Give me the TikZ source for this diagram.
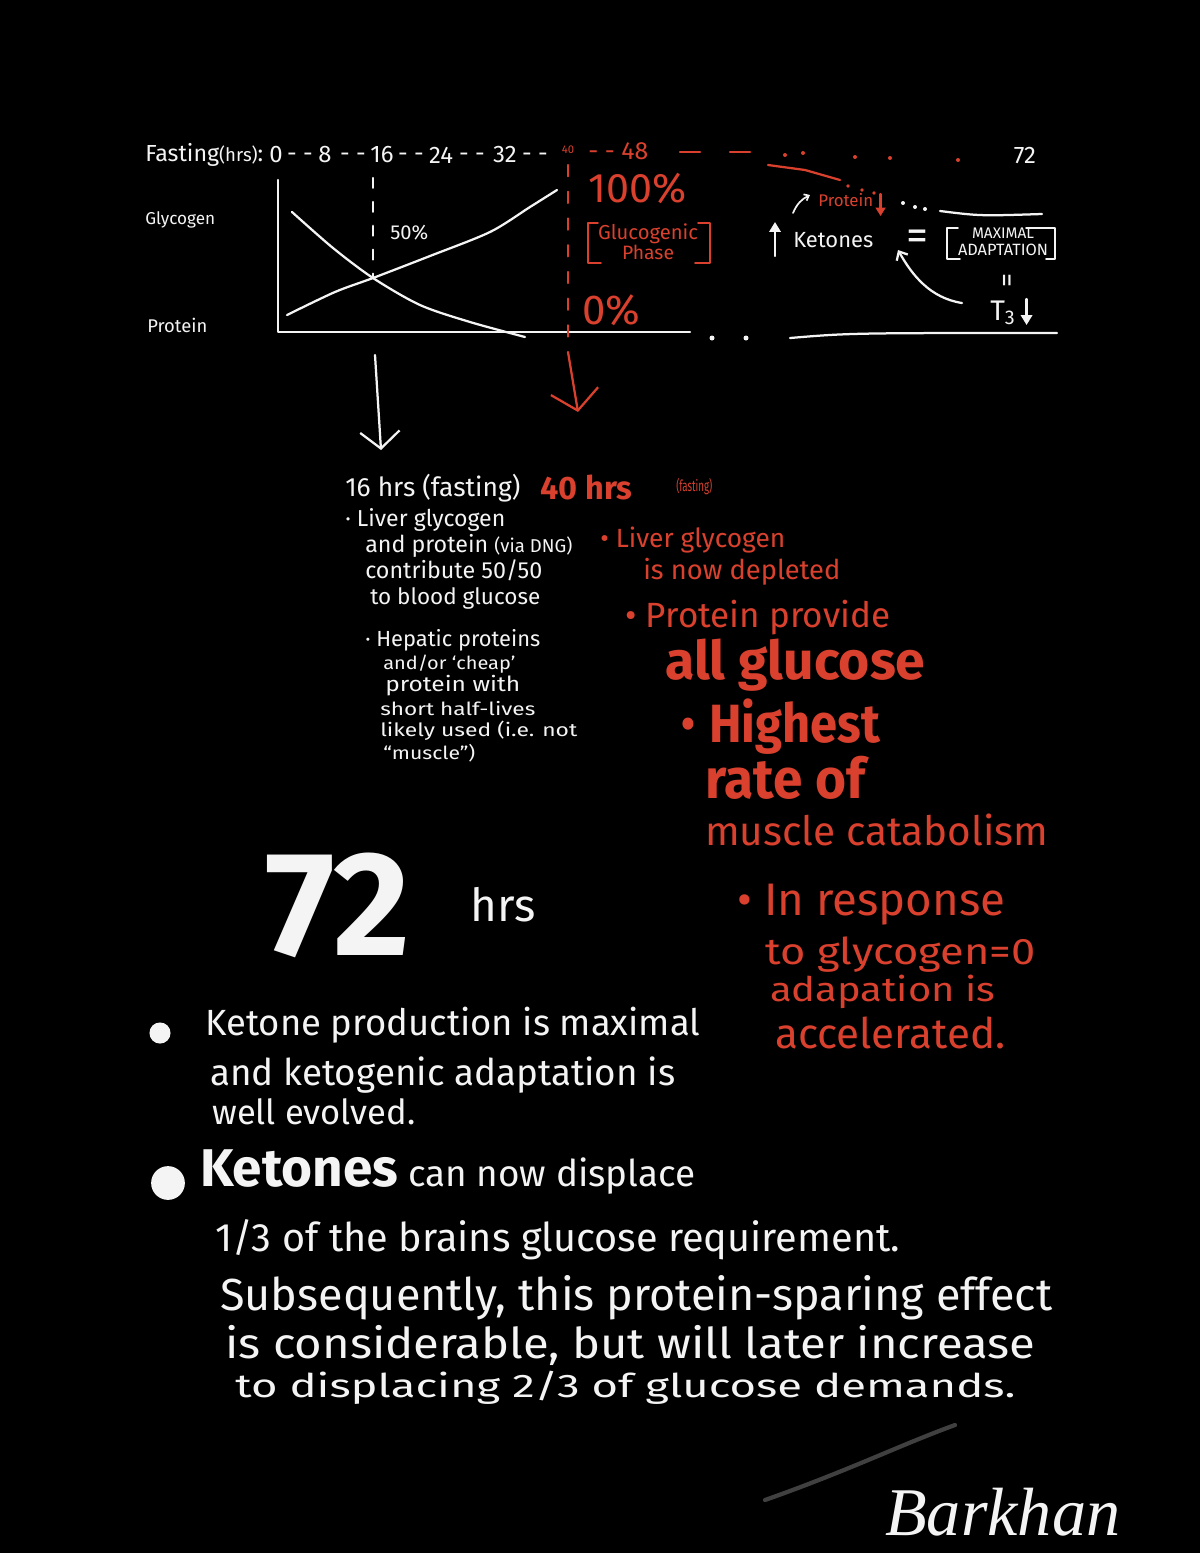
\documentclass[tikz,border=0pt]{standalone}
\usepackage{fontspec}
\setmainfont{Fira Sans}
\newfontfamily\sigfont{Liberation Serif}
\usepackage{graphicx}
\usepackage{xcolor}
\definecolor{colRed}{HTML}{D9412E}
\definecolor{colChalk}{HTML}{F4F4F4}
\usetikzlibrary{arrows.meta, positioning, calc}
\newlength\pxu \setlength\pxu{0.025cm}
\newcommand{\hw}[2]{\resizebox{#1\pxu}{!}{#2}}
\newcommand{\hws}[3]{\scalebox{1}[#2]{\resizebox{#1\pxu}{!}{#3}}}

\begin{document}
\begin{tikzpicture}[x=0.025cm, y=-0.025cm,
    hand/.style={text=colChalk, inner sep=0pt, anchor=west},
    redhand/.style={hand, text=colRed},
    chalk/.style={draw=colChalk, line width=1.6pt, line cap=round, line join=round},
    redchalk/.style={chalk, draw=colRed},
    tick/.style={text=colChalk, inner sep=0pt, font=\fontsize{17}{17}\selectfont}]
        % Board
        \fill[black] (0,0) rectangle (1200,1553);
        \useasboundingbox (0,0) rectangle (1200,1553);
        % Time axis
        \node[hand] (fast) at (145,155) {\hw{118}{Fasting{\footnotesize(hrs)}:}};
        \foreach \h/\x in {0/276, 8/325, 16/382, 24/441, 32/505}
            \node[tick] (t\h) at (\x,155) {\h};
        \foreach \x in {300,353,411,472,535}
            \node[tick] (d\x) at (\x,157) {- -};
        \node[text=colRed, inner sep=0pt, font=\fontsize{8}{8}\selectfont] (t40) at (568,150) {40};
        \node[redhand] (t48) at (588,151) {\hw{60}{- - 48}};
        \foreach \x in {680,730}
            \draw[redchalk] (\x,152) -- ++(20,0);
        \foreach \x/\y in {785/155, 803/153, 855/157, 890/158, 958/160}
            \fill[colRed] (\x,\y) circle (2);
        \node[tick] (t72) at (1025,155) {72};
        % Chart
        \node[hand] (lgly) at (145,220) {\hw{70}{Glycogen}};
        \node[hand] (lpro) at (147,325) {\hw{60}{Protein}};
        \coordinate (o) at (278,332);
        \draw[chalk] (278,180) -- (o) -- (690,332);
        \draw[chalk] plot[smooth] coordinates {(292,212) (333,248) (373,278) (420,305) (470,322) (525,337)};
        \draw[chalk] plot[smooth] coordinates {(287,315) (335,292) (373,278) (430,256) (490,232) (530,207) (557,190)};
        \draw[chalk, dash pattern=on 7pt off 10pt] (373,178) -- (373,278);
        \node[hand] (half) at (390,233) {\hw{38}{50\%}};
        % 40 hrs marker
        \draw[redchalk, dash pattern=on 8pt off 11pt] (568,165) -- (568,352);
        \node[redhand] (p100) at (588,188) {\hw{98}{100\%}};
        \node[text=colRed, align=center, inner sep=1pt] (gp) at (648,242) {\hw{100}{Glucogenic}\\\hw{52}{Phase}};
        \draw[redchalk, line width=1.3pt] (598,223) -- (588,223) -- (588,263) -- (601,263);
        \draw[redchalk, line width=1.3pt] (698,223) -- (710,223) -- (710,263) -- (695,263);
        \node[redhand] (p0) at (582,310) {\hw{58}{0\%}};
        \draw[redchalk] (768,165) -- (805,170) -- (840,180);
        % Ketones / adaptation
        \node[hand] (ket) at (793,240) {\hw{80}{Ketones}};
        \draw[chalk, -{Triangle[length=7pt,width=8pt]}] ($(ket.west)+(-18,16)$) -- ($(ket.west)+(-18,-18)$);
        \node[redhand] (prot) at (818,200) {\hw{55}{Protein}};
        \draw[chalk, line width=1.2pt, -{Straight Barb[length=3pt,width=5pt]}] ($(prot.west)+(-25,13)$) to[bend left=20] ($(prot.west)+(-8,-5)$);
        \draw[redchalk, -{Triangle[length=6pt,width=7pt]}] ($(prot.east)+(7,-6)$) -- ($(prot.east)+(7,16)$);
        \foreach \x/\y in {848/186, 862/190, 874/193}
            \fill[colRed] (\x,\y) circle (1.8);
        \foreach \x/\y in {903/203, 915/207, 925/209}
            \fill[colChalk] (\x,\y) circle (2);
        \draw[chalk] (940,211) .. controls (980,216) .. (1042,214);
        \node[text=colChalk, inner sep=0pt] (eq) at (917,240) {\hw{22}{=}};
        \node[text=colChalk, align=center, inner sep=1pt] (ma) at (1003,242) {\hw{62}{MAXIMAL}\\\hw{90}{ADAPTATION}};
        \draw[chalk, line width=1.2pt] (958,228) -- (947,228) -- (947,259) -- (960,259);
        \draw[chalk, line width=1.2pt] (1026,228) -- (1055,228) -- (1055,259) -- (1046,259);
        \node[text=colChalk, inner sep=0pt, rotate=90] (eq2) at (1010,280) {\hw{14}{=}};
        \node[hand] (t3) at (990,313) {\hw{26}{T\textsubscript{3}}};
        \draw[chalk, -{Triangle[length=7pt,width=8pt]}] ($(t3.east)+(10,-14)$) -- ($(t3.east)+(10,12)$);
        \coordinate (kin) at (898,250);
        \draw[chalk, -{Straight Barb[length=5pt,width=9pt]}] ($(t3.west)+(-28,-10)$) .. controls (930,298) and (912,275) .. (kin);
        \foreach \x in {712,746}
            \fill[colChalk] (\x,338) circle (2.5);
        \draw[chalk] (790,338) .. controls (850,333) .. (1057,333);
        % Pointers to the notes
        \coordinate (a16) at (375,355);
        \coordinate (b16) at (381,450);
        \draw[chalk, -{Straight Barb[length=12pt,width=28pt]}] (a16) -- (b16);
        \coordinate (a40) at (568,352);
        \coordinate (b40) at (578,412);
        \draw[redchalk, -{Straight Barb[length=14pt,width=34pt]}] (a40) -- (b40);
        % 16 hrs notes
        \foreach \x/\y/\w/\s/\t in {345/488/175/1/{16 hrs (fasting)}, 345/520/160/1/{· Liver glycogen},
                365/546/207/1/{and protein {\footnotesize(via DNG)}}, 365/570/177/1/{contribute 50/50},
                370/598/170/1/{to blood glucose}, 365/640/175/1/{· Hepatic proteins},
                383/664/132/0.9/{and/or ‘cheap’}, 385/686/135/0.85/{protein with},
                380/709/155/0.8/{short half-lives}, 380/731/197/0.8/{likely used (i.e. not},
                383/753/92/0.85/{“muscle”)}}
            \node[hand] (w\y) at (\x,\y) {\hws{\w}{\s}{\t}};
        % 40 hrs notes
        \node[redhand] (r40) at (540,487) {\hw{92}{\bfseries 40 hrs}};
        \node[redhand] (f40) at (676,487) {\hws{36}{1.6}{(fasting)}};
        \foreach \x/\y/\w/\s/\t in {600/540/185/1/{• Liver glycogen}, 643/572/197/1/{is now depleted},
                625/618/265/1/{• Protein provide}, 665/665/260/1/{\bfseries all glucose},
                680/727/200/1.1/{• \bfseries Highest}, 705/778/160/1.05/{\bfseries rate of},
                705/830/343/1/{muscle catabolism}, 737/905/268/1/{• In response},
                765/955/270/0.85/{to glycogen=0}, 770/992/225/0.85/{adapation is},
                775/1033/230/1/{accelerated.}}
            \node[redhand] (r\y) at (\x,\y) {\hws{\w}{\s}{\t}};
        % 72 hrs notes
        \node[hand] (big72) at (265,905) {\hw{145}{\bfseries 72}};
        \node[hand] (hrs72) at (470,905) {\hw{65}{hrs}};
        \node[circle, fill=colChalk, inner sep=0pt, minimum size=15pt] (b1) at (160,1033) {};
        \node[circle, fill=colChalk, inner sep=0pt, minimum size=24pt] (b2) at (168,1183) {};
        \foreach \x/\y/\w/\s/\t in {205/1025/495/1/{Ketone production is maximal},
                210/1075/465/1/{and ketogenic adaptation is}, 212/1112/203/1/{well evolved.},
                200/1172/495/1/{{\Large\bfseries Ketones} can now displace},
                215/1240/685/1/{1/3 of the brains glucose requirement.},
                220/1298/832/1/{Subsequently, this protein-sparing effect},
                225/1345/810/0.9/{is considerable, but will later increase},
                235/1388/780/0.72/{to displacing 2/3 of glucose demands.}}
            \node[hand] (k\y) at (\x,\y) {\hws{\w}{\s}{\t}};
        % Signature
        \draw[black!75, line width=3pt, line cap=round] (765,1500) .. controls (850,1470) and (900,1445) .. (955,1425);
        \node[hand] (sig) at (885,1512) {\hw{235}{\sigfont\itshape Barkhan}};
    \end{tikzpicture}
\end{document}
